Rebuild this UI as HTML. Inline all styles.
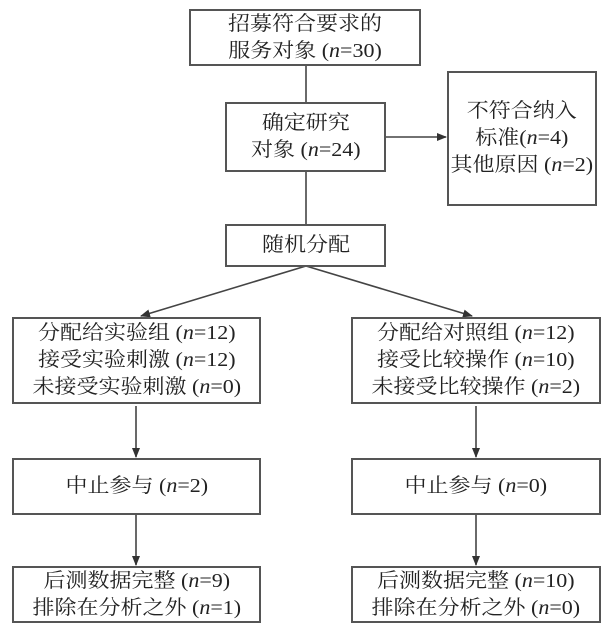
<!DOCTYPE html>
<html><head><meta charset="utf-8"><style>
body{margin:0;background:#fff;}
#c{position:relative;width:603px;height:627px;overflow:hidden;font-family:"Liberation Serif","Noto Serif CJK SC",serif;color:#222;}
.b{position:absolute;box-sizing:border-box;border:2px solid #555;display:flex;align-items:center;justify-content:center;text-align:center;font-size:20px;line-height:27px;white-space:nowrap;}
.b>div{display:block;transform:scaleX(1.1);}
i{font-style:italic;}
svg{position:absolute;left:0;top:0;}
</style></head><body><div id="c">
<svg width="603" height="627">
<defs><marker id="a" markerWidth="10" markerHeight="8" refX="9" refY="4" orient="auto" markerUnits="userSpaceOnUse"><path d="M0,0 L10,4 L0,8z" fill="#333"/></marker></defs>
<g stroke="#444" stroke-width="1.6" fill="none">
<line x1="306" y1="65" x2="306" y2="102"/>
<line x1="306" y1="172" x2="306" y2="224"/>
<line x1="386" y1="137" x2="446" y2="137" marker-end="url(#a)"/>
<line x1="306" y1="266" x2="141" y2="316" marker-end="url(#a)"/>
<line x1="306" y1="266" x2="472" y2="316" marker-end="url(#a)"/>
<line x1="136" y1="406" x2="136" y2="457" marker-end="url(#a)"/>
<line x1="476" y1="406" x2="476" y2="457" marker-end="url(#a)"/>
<line x1="136" y1="514" x2="136" y2="565" marker-end="url(#a)"/>
<line x1="476" y1="514" x2="476" y2="565" marker-end="url(#a)"/>
</g></svg>
<div class="b" style="left:189px;top:9px;width:232px;height:57px;"><div>招募符合要求的<br>服务对象 (<i>n</i>=30)</div></div>
<div class="b" style="left:225px;top:102px;width:161px;height:70px;"><div>确定研究<br>对象 (<i>n</i>=24)</div></div>
<div class="b" style="left:447px;top:71px;width:150px;height:135px;"><div>不符合纳入<br>标准(<i>n</i>=4)<br>其他原因 (<i>n</i>=2)</div></div>
<div class="b" style="left:225px;top:224px;width:161px;height:43px;"><div>随机分配</div></div>
<div class="b" style="left:12px;top:317px;width:249px;height:87px;"><div>分配给实验组 (<i>n</i>=12)<br>接受实验刺激 (<i>n</i>=12)<br>未接受实验刺激 (<i>n</i>=0)</div></div>
<div class="b" style="left:351px;top:317px;width:250px;height:87px;"><div>分配给对照组 (<i>n</i>=12)<br>接受比较操作 (<i>n</i>=10)<br>未接受比较操作 (<i>n</i>=2)</div></div>
<div class="b" style="left:12px;top:458px;width:249px;height:57px;"><div>中止参与 (<i>n</i>=2)</div></div>
<div class="b" style="left:351px;top:458px;width:250px;height:57px;"><div>中止参与 (<i>n</i>=0)</div></div>
<div class="b" style="left:12px;top:566px;width:249px;height:57px;"><div>后测数据完整 (<i>n</i>=9)<br>排除在分析之外 (<i>n</i>=1)</div></div>
<div class="b" style="left:351px;top:566px;width:250px;height:57px;"><div>后测数据完整 (<i>n</i>=10)<br>排除在分析之外 (<i>n</i>=0)</div></div>
</div></body></html>
